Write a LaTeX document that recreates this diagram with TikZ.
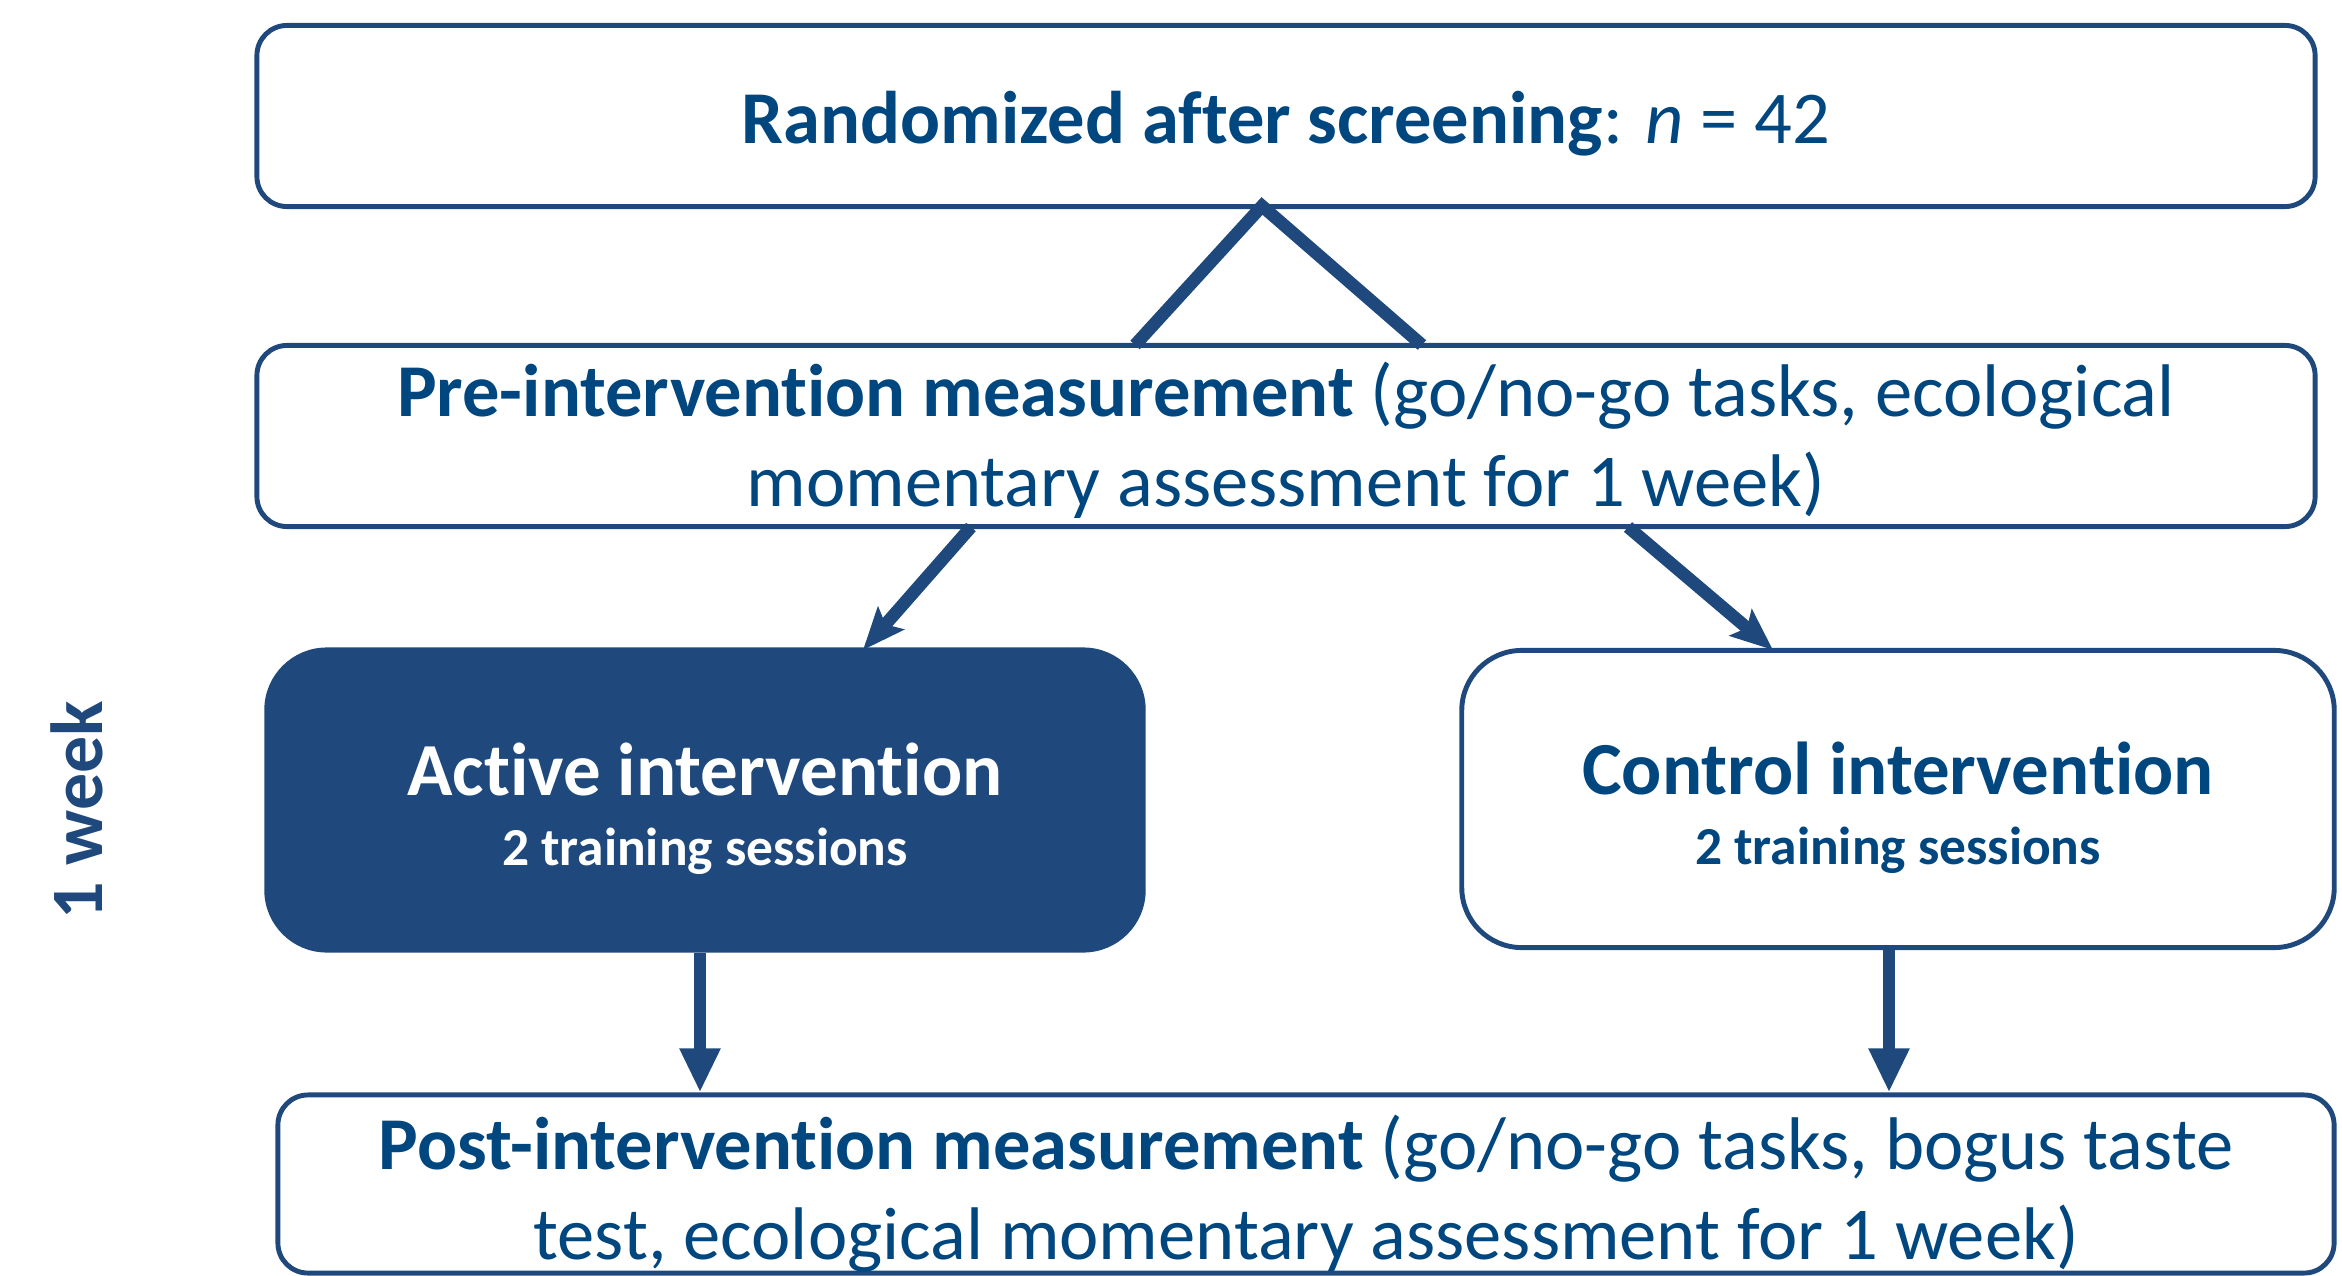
\documentclass[tikz,border=0pt]{standalone}
\usepackage{fontspec}
\setmainfont{Carlito}[Ligatures=NoCommon]
\usetikzlibrary{arrows.meta}
\definecolor{boxblue}{RGB}{31,73,125}
\definecolor{textblue}{RGB}{0,70,127}
\newcommand{\lift}[1]{\rule{0pt}{#1}}
\tikzset{box/.style = {draw=boxblue, line width=1.4pt, rounded corners=0.3cm, fill=white, text=textblue,
                       align=center, inner sep=0pt, font=\fontsize{21.2}{25.6}\selectfont},
         arm/.style = {draw=boxblue, line width=3.6pt, line join=miter},
         tri/.style = {-{Triangle[length=0.44cm, width=0.38cm]}},
         stl/.style = {-{Stealth[length=0.42cm, width=0.34cm, inset=0.08cm]}}}

\begin{document}
\begin{tikzpicture}[x=0.01cm, y=-0.01cm]
    \useasboundingbox (0,0) rectangle (2342,1276);
    \node[box, minimum width=20.57cm, minimum height=1.81cm] (top) at (1286,116)
        {\lift{19pt}\textbf{Randomized after screening}: \textit{n} = 42};
    \node[box, minimum width=20.57cm, minimum height=1.81cm] (pre) at (1286,436)
        {\lift{18pt}\textbf{Pre-intervention measurement} (go/no-go tasks, ecological\\momentary assessment for 1 week)};
    \node[box, fill=boxblue, text=white, rounded corners=0.6cm, minimum width=8.76cm, minimum height=3.0cm,
          font=\fontsize{21.3}{20}\selectfont\bfseries] (active) at (705,800)
        {\lift{20pt}Active intervention\\{\fontsize{15.2}{20}\selectfont 2 training sessions}};
    \node[box, rounded corners=0.6cm, minimum width=8.72cm, minimum height=2.97cm,
          font=\fontsize{21.3}{20}\selectfont\bfseries] (control) at (1898,799)
        {\lift{20pt}Control intervention\\{\fontsize{15.2}{20}\selectfont 2 training sessions}};
    \node[box, minimum width=20.55cm, minimum height=1.78cm] (post) at (1306,1184)
        {\lift{21pt}\textbf{Post-intervention measurement} (go/no-go tasks, bogus taste\\test, ecological momentary assessment for 1 week)};
    \node[text=boxblue, rotate=90, font=\fontsize{21}{25}\selectfont\bfseries] (week) at (77,810) {1 week};
    % split after randomisation
    \coordinate (fork) at (1262,206);
    \coordinate (forkL) at (1135,345);
    \coordinate (forkR) at (1422,345);
    \draw[arm] (forkL) -- (fork) -- (forkR);
    % to the two arms
    \coordinate (preL) at (971,527);
    \coordinate (preR) at (1628,527);
    \coordinate (actIn) at (863,650);
    \coordinate (conIn) at (1773,650);
    \draw[arm, stl] (preL) -- (actIn);
    \draw[arm, stl] (preR) -- (conIn);
    % to the post measurement
    \draw[arm, tri] (active.south -| 700,0) -- (post.north -| 700,0);
    \draw[arm, tri] (control.south -| 1889,0) -- (post.north -| 1889,0);
\end{tikzpicture}
\end{document}
